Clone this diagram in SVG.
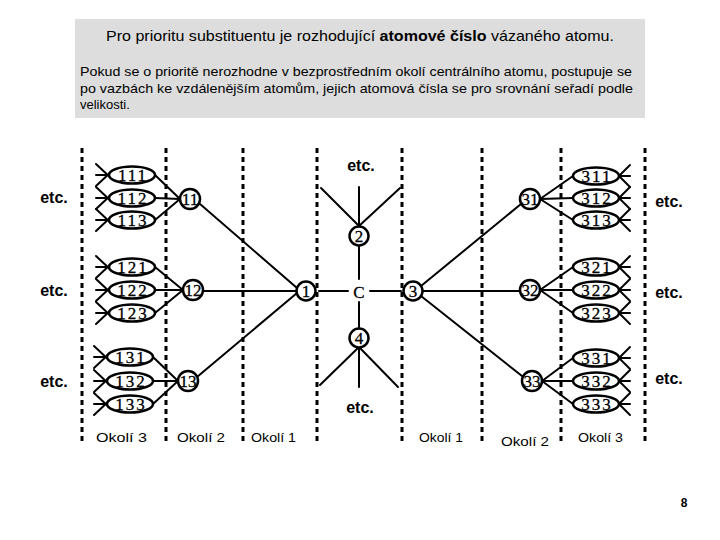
<svg xmlns="http://www.w3.org/2000/svg" width="720" height="540" viewBox="0 0 720 540">
<style>
.hdr{font-family:"Liberation Sans","DejaVu Sans",sans-serif;fill:#000}
.num{font-family:"Liberation Serif","DejaVu Serif",serif;font-size:17px;fill:#000;text-anchor:middle;stroke:#000;stroke-width:0.3}
.etc{font-family:"Liberation Sans","DejaVu Sans",sans-serif;font-size:16px;font-weight:bold;fill:#000;text-anchor:middle}
.lbl{font-family:"Liberation Sans","DejaVu Sans",sans-serif;font-size:13px;fill:#000}
.ln{stroke:#000;stroke-width:2;fill:none;stroke-linecap:round}
.el{stroke:#000;stroke-width:2.5;fill:#fff}
.dash{stroke:#000;stroke-width:3;stroke-dasharray:5 4;fill:none}
</style>
<rect x="0" y="0" width="720" height="540" fill="#fff"/>
<g id="header">
<rect x="75" y="19" width="570" height="99" fill="#dddddd"/>
<text class="hdr" x="106" y="41" font-size="15" textLength="508" lengthAdjust="spacingAndGlyphs">Pro prioritu substituentu je rozhodující <tspan font-weight="bold">atomové číslo</tspan> vázaného atomu.</text>
<text class="hdr" x="80" y="76" font-size="13" textLength="552" lengthAdjust="spacingAndGlyphs">Pokud se o prioritě nerozhodne v bezprostředním okolí centrálního atomu, postupuje se</text>
<text class="hdr" x="80" y="93" font-size="13" textLength="553" lengthAdjust="spacingAndGlyphs">po vazbách ke vzdálenějším atomům, jejich atomová čísla se pro srovnání seřadí podle</text>
<text class="hdr" x="80" y="109" font-size="13">velikosti.</text>
</g>
<g id="dividers">
<line class="dash" x1="82" y1="148" x2="82" y2="445"/>
<line class="dash" x1="166" y1="148" x2="166" y2="445"/>
<line class="dash" x1="243" y1="148" x2="243" y2="445"/>
<line class="dash" x1="317" y1="148" x2="317" y2="445"/>
<line class="dash" x1="402" y1="148" x2="402" y2="445"/>
<line class="dash" x1="482" y1="148" x2="482" y2="445"/>
<line class="dash" x1="561" y1="148" x2="561" y2="445"/>
<line class="dash" x1="645" y1="148" x2="645" y2="445"/>
</g>
<g id="connectors">
<line class="ln" x1="319" y1="291" x2="348" y2="291"/>
<line class="ln" x1="370" y1="291" x2="401" y2="291"/>
<line class="ln" x1="359" y1="245" x2="359" y2="279"/>
<line class="ln" x1="359" y1="302" x2="359" y2="328"/>
<line class="ln" x1="359" y1="226" x2="359" y2="187"/>
<line class="ln" x1="359" y1="226" x2="321" y2="188"/>
<line class="ln" x1="359" y1="226" x2="400" y2="188"/>
<line class="ln" x1="359" y1="347" x2="359" y2="387"/>
<line class="ln" x1="359" y1="347" x2="320" y2="385"/>
<line class="ln" x1="359" y1="347" x2="398" y2="387"/>
<line class="ln" x1="200" y1="204" x2="297" y2="288"/>
<line class="ln" x1="203" y1="291" x2="296" y2="291"/>
<line class="ln" x1="197" y1="377" x2="297" y2="293"/>
<line class="ln" x1="421" y1="286" x2="521" y2="204"/>
<line class="ln" x1="423" y1="291" x2="520" y2="291"/>
<line class="ln" x1="421" y1="296" x2="522" y2="376"/>
<line class="ln" x1="155" y1="175" x2="180" y2="199"/>
<line class="ln" x1="155" y1="198" x2="180" y2="199"/>
<line class="ln" x1="155" y1="220" x2="180" y2="199"/>
<line class="ln" x1="155" y1="267" x2="183" y2="290"/>
<line class="ln" x1="155" y1="290" x2="183" y2="290"/>
<line class="ln" x1="155" y1="313" x2="183" y2="290"/>
<line class="ln" x1="153" y1="357" x2="178" y2="381"/>
<line class="ln" x1="153" y1="381" x2="178" y2="381"/>
<line class="ln" x1="153" y1="404" x2="178" y2="381"/>
<line class="ln" x1="540" y1="199" x2="573" y2="176"/>
<line class="ln" x1="540" y1="199" x2="573" y2="198"/>
<line class="ln" x1="540" y1="199" x2="573" y2="220"/>
<line class="ln" x1="540" y1="290" x2="573" y2="267"/>
<line class="ln" x1="540" y1="290" x2="573" y2="290"/>
<line class="ln" x1="540" y1="290" x2="573" y2="313"/>
<line class="ln" x1="542" y1="381" x2="573" y2="358"/>
<line class="ln" x1="542" y1="381" x2="573" y2="381"/>
<line class="ln" x1="542" y1="381" x2="573" y2="404"/>
</g>
<defs>
<g id="forkL">
<line class="ln" x1="-36" y1="-11" x2="-20" y2="4"/>
<line class="ln" x1="-36" y1="11" x2="-20" y2="-4"/>
<line class="ln" x1="-36" y1="0" x2="-23" y2="0"/>
</g>
<g id="forkR">
<line class="ln" x1="34" y1="-11" x2="19" y2="4"/>
<line class="ln" x1="34" y1="11" x2="19" y2="-4"/>
<line class="ln" x1="34" y1="0" x2="22" y2="0"/>
</g>
</defs>
<g id="n111"><use href="#forkL" x="132" y="175"/><ellipse class="el" cx="132" cy="175" rx="23" ry="8.5"/><text class="num" x="133" y="181" letter-spacing="2">111</text></g>
<g id="n112"><use href="#forkL" x="132" y="198"/><ellipse class="el" cx="132" cy="198" rx="23" ry="8.5"/><text class="num" x="133" y="204" letter-spacing="2">112</text></g>
<g id="n113"><use href="#forkL" x="132" y="220"/><ellipse class="el" cx="132" cy="220" rx="23" ry="8.5"/><text class="num" x="133" y="226" letter-spacing="2">113</text></g>
<g id="n121"><use href="#forkL" x="132" y="267"/><ellipse class="el" cx="132" cy="267" rx="23" ry="8.5"/><text class="num" x="133" y="273" letter-spacing="2">121</text></g>
<g id="n122"><use href="#forkL" x="132" y="290"/><ellipse class="el" cx="132" cy="290" rx="23" ry="8.5"/><text class="num" x="133" y="296" letter-spacing="2">122</text></g>
<g id="n123"><use href="#forkL" x="132" y="313"/><ellipse class="el" cx="132" cy="313" rx="23" ry="8.5"/><text class="num" x="133" y="319" letter-spacing="2">123</text></g>
<g id="n131"><use href="#forkL" x="130" y="357"/><ellipse class="el" cx="130" cy="357" rx="23" ry="8.5"/><text class="num" x="131" y="363" letter-spacing="2">131</text></g>
<g id="n132"><use href="#forkL" x="130" y="381"/><ellipse class="el" cx="130" cy="381" rx="23" ry="8.5"/><text class="num" x="131" y="387" letter-spacing="2">132</text></g>
<g id="n133"><use href="#forkL" x="130" y="404"/><ellipse class="el" cx="130" cy="404" rx="23" ry="8.5"/><text class="num" x="131" y="410" letter-spacing="2">133</text></g>
<g id="n311"><use href="#forkR" x="596" y="176"/><ellipse class="el" cx="596" cy="176" rx="23" ry="8.5"/><text class="num" x="597" y="182" letter-spacing="2">311</text></g>
<g id="n312"><use href="#forkR" x="596" y="198"/><ellipse class="el" cx="596" cy="198" rx="23" ry="8.5"/><text class="num" x="597" y="204" letter-spacing="2">312</text></g>
<g id="n313"><use href="#forkR" x="596" y="220"/><ellipse class="el" cx="596" cy="220" rx="23" ry="8.5"/><text class="num" x="597" y="226" letter-spacing="2">313</text></g>
<g id="n321"><use href="#forkR" x="596" y="267"/><ellipse class="el" cx="596" cy="267" rx="23" ry="8.5"/><text class="num" x="597" y="273" letter-spacing="2">321</text></g>
<g id="n322"><use href="#forkR" x="596" y="290"/><ellipse class="el" cx="596" cy="290" rx="23" ry="8.5"/><text class="num" x="597" y="296" letter-spacing="2">322</text></g>
<g id="n323"><use href="#forkR" x="596" y="313"/><ellipse class="el" cx="596" cy="313" rx="23" ry="8.5"/><text class="num" x="597" y="319" letter-spacing="2">323</text></g>
<g id="n331"><use href="#forkR" x="596" y="358"/><ellipse class="el" cx="596" cy="358" rx="23" ry="8.5"/><text class="num" x="597" y="364" letter-spacing="2">331</text></g>
<g id="n332"><use href="#forkR" x="596" y="381"/><ellipse class="el" cx="596" cy="381" rx="23" ry="8.5"/><text class="num" x="597" y="387" letter-spacing="2">332</text></g>
<g id="n333"><use href="#forkR" x="596" y="404"/><ellipse class="el" cx="596" cy="404" rx="23" ry="8.5"/><text class="num" x="597" y="410" letter-spacing="2">333</text></g>
<g id="n11"><circle class="el" cx="190" cy="199" r="10"/><text class="num" x="190" y="205">11</text></g>
<g id="n12"><circle class="el" cx="193" cy="290" r="10"/><text class="num" x="193" y="296">12</text></g>
<g id="n13"><circle class="el" cx="188" cy="381" r="10"/><text class="num" x="188" y="387">13</text></g>
<g id="n31"><circle class="el" cx="530" cy="199" r="10"/><text class="num" x="530" y="205">31</text></g>
<g id="n32"><circle class="el" cx="530" cy="290" r="10"/><text class="num" x="530" y="296">32</text></g>
<g id="n33"><circle class="el" cx="532" cy="381" r="10"/><text class="num" x="532" y="387">33</text></g>
<g id="n1"><circle class="el" cx="306" cy="291" r="9.5"/><text class="num" x="306" y="297">1</text></g>
<g id="n3"><circle class="el" cx="413" cy="291" r="9.5"/><text class="num" x="413" y="297">3</text></g>
<g id="n2"><circle class="el" cx="359" cy="236" r="9.5"/><text class="num" x="359" y="242">2</text></g>
<g id="n4"><circle class="el" cx="359" cy="338" r="9.5"/><text class="num" x="359" y="344">4</text></g>
<g id="nC"><text class="num" x="359" y="298" font-size="21" stroke-width="0">C</text></g>
<g id="etc">
<text class="etc" x="361" y="171">etc.</text>
<text class="etc" x="360" y="413">etc.</text>
<text class="etc" x="54" y="203">etc.</text>
<text class="etc" x="54" y="296">etc.</text>
<text class="etc" x="54" y="387">etc.</text>
<text class="etc" x="669" y="207">etc.</text>
<text class="etc" x="669" y="298">etc.</text>
<text class="etc" x="669" y="384">etc.</text>
</g>
<g id="labels">
<text class="lbl" x="96" y="442" textLength="51" lengthAdjust="spacingAndGlyphs">Okolí 3</text>
<text class="lbl" x="177" y="442" textLength="48" lengthAdjust="spacingAndGlyphs">Okolí 2</text>
<text class="lbl" x="251" y="442" textLength="45" lengthAdjust="spacingAndGlyphs">Okolí 1</text>
<text class="lbl" x="419" y="442" textLength="44" lengthAdjust="spacingAndGlyphs">Okolí 1</text>
<text class="lbl" x="501" y="446" textLength="48" lengthAdjust="spacingAndGlyphs">Okolí 2</text>
<text class="lbl" x="578" y="442" textLength="45" lengthAdjust="spacingAndGlyphs">Okolí 3</text>
</g>
<text x="684" y="507" font-family="Liberation Sans, sans-serif" font-size="12" font-weight="bold" text-anchor="middle">8</text>
</svg>
